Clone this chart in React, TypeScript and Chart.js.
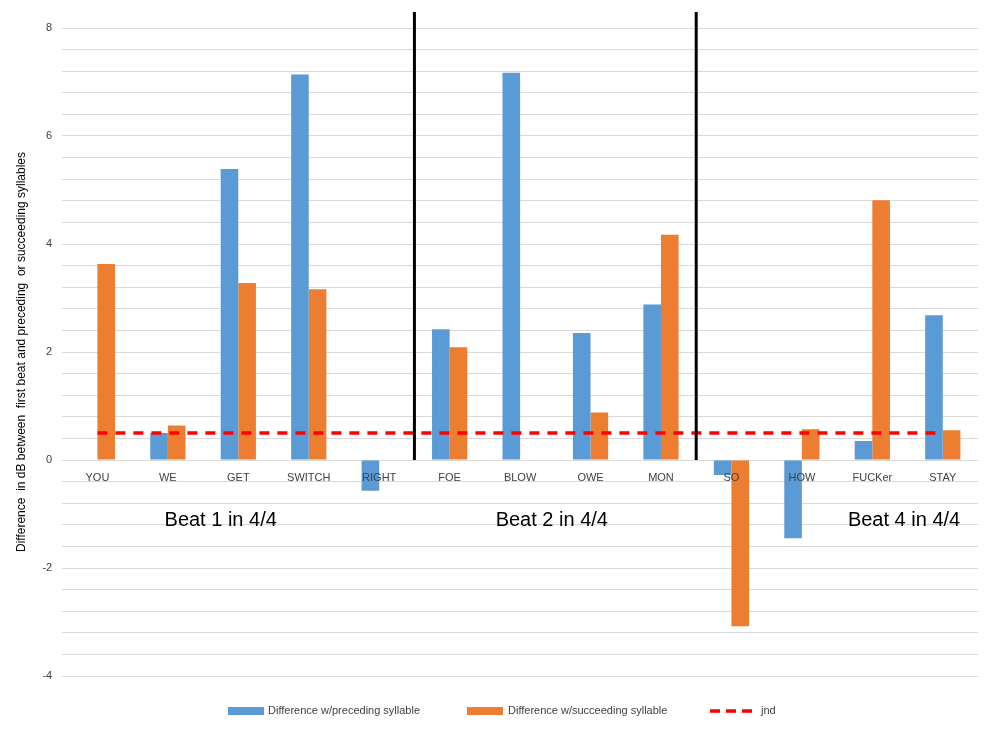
import React, { useEffect, useRef } from "react";
import { Chart, registerables } from "chart.js";
Chart.register(...registerables);

const categories = ["YOU","WE","GET","SWITCH","RIGHT","FOE","BLOW","OWE","MON","SO","HOW","FUCKer","STAY"];
const preceding = [0,0.5,5.39,7.14,-0.57,2.42,7.17,2.35,2.88,-0.28,-1.45,0.35,2.68];
const succeeding = [3.63,0.64,3.28,3.16,0,2.09,0,0.88,4.17,-3.08,0.57,4.81,0.55];
const jnd = categories.map(() => 0.5);
const separatorsAfter = [4, 8];
const beatLabels = [
  { text: "Beat 1 in 4/4", at: 1.75 },
  { text: "Beat 2 in 4/4", at: 6.45 },
  { text: "Beat 4 in 4/4", at: 11.45 },
];
const FONT = "'Liberation Sans', Arial, sans-serif";

const overlay = {
  id: "overlay",
  afterDatasetsDraw(chart: any) {
    const { ctx, chartArea, scales } = chart;
    const x = scales.x, y = scales.y;
    const y0 = y.getPixelForValue(0);
    ctx.save();
    ctx.fillStyle = "#404040";
    ctx.font = "11px " + FONT;
    ctx.textAlign = "center";
    ctx.textBaseline = "middle";
    categories.forEach((c, i) => ctx.fillText(c, x.getPixelForValue(i), y0 + 18));
    ctx.strokeStyle = "#000";
    ctx.lineWidth = 3;
    separatorsAfter.forEach((i) => {
      const px = (x.getPixelForValue(i) + x.getPixelForValue(i + 1)) / 2;
      ctx.beginPath();
      ctx.moveTo(px, chartArea.top - 16);
      ctx.lineTo(px, y0);
      ctx.stroke();
    });
    ctx.fillStyle = "#000";
    ctx.font = "20px " + FONT;
    beatLabels.forEach((b) => ctx.fillText(b.text, x.getPixelForValue(b.at), y.getPixelForValue(-1.12)));
    // legend
    const ly = 711;
    ctx.font = "11px " + FONT;
    ctx.textAlign = "left";
    ctx.fillStyle = "#5b9bd5";
    ctx.fillRect(228, ly - 4, 36, 8);
    ctx.fillStyle = "#ed7d31";
    ctx.fillRect(467, ly - 4, 36, 8);
    ctx.strokeStyle = "#ff0000";
    ctx.lineWidth = 3.5;
    ctx.setLineDash([10, 6]);
    ctx.beginPath();
    ctx.moveTo(710, ly);
    ctx.lineTo(756, ly);
    ctx.stroke();
    ctx.setLineDash([]);
    ctx.fillStyle = "#404040";
    ctx.fillText(chart.data.datasets[0].label, 268, ly);
    ctx.fillText(chart.data.datasets[1].label, 508, ly);
    ctx.fillText(chart.data.datasets[2].label, 761, ly);
    ctx.restore();
  },
};

export default function App() {
  const ref = useRef<HTMLCanvasElement>(null);
  useEffect(() => {
    const chart = new Chart(ref.current!, {
      type: "bar",
      data: {
        labels: categories,
        datasets: [
          { label: "Difference w/preceding syllable", data: preceding, backgroundColor: "#5b9bd5", order: 2 },
          { label: "Difference w/succeeding syllable", data: succeeding, backgroundColor: "#ed7d31", order: 2 },
          { type: "line", label: "jnd", data: jnd, borderColor: "#ff0000", borderWidth: 3.5, borderDash: [10, 8], pointRadius: 0, order: 1 } as any,
        ],
      },
      options: {
        animation: false,
        responsive: false,
        datasets: { bar: { categoryPercentage: 0.5, barPercentage: 1 } },
        layout: { padding: { top: 28, right: 22, left: 10, bottom: 45 } },
        plugins: { legend: { display: false }, tooltip: { enabled: false } },
        scales: {
          x: { ticks: { display: false }, grid: { display: false }, border: { display: false } },
          y: {
            min: -4, max: 8,
            ticks: {
              stepSize: 0.4, autoSkip: false, color: "#404040", padding: 10,
              font: { size: 11, family: FONT },
              callback: (v: any) => (Math.abs(v / 2 - Math.round(v / 2)) < 1e-6 ? String(Math.round(v)) : ""),
            },
            grid: { color: "#d9d9d9", drawTicks: false },
            border: { display: false },
            title: { display: true, text: "Difference  in dB between  first beat and preceding  or succeeding syllables", color: "#000", padding: 4, font: { size: 12, family: FONT } },
          },
        },
      },
      plugins: [overlay],
    });
    return () => chart.destroy();
  }, []);
  return (
    <div style={{ position: "fixed", left: 0, top: 0, width: 1000, height: 729, background: "#fff" }}>
      <canvas ref={ref} width={1000} height={729} />
    </div>
  );
}
